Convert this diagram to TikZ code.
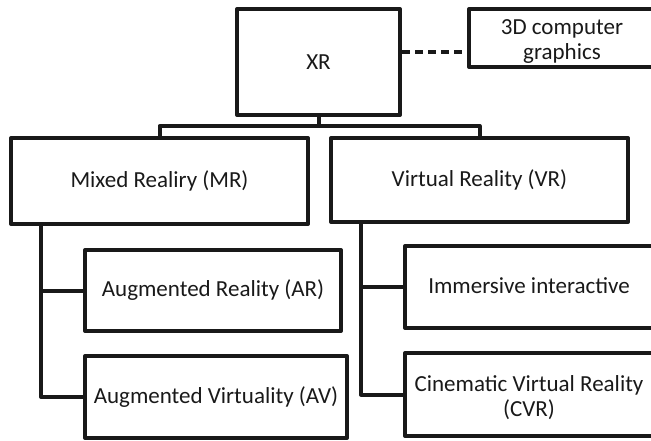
\documentclass[tikz,border=0pt]{standalone}
\usepackage{fontspec}
\setmainfont{Carlito}
\newcommand\lowtxt[2]{\raisebox{-#1}[\height][\depth]{\begin{tabular}{@{}c@{}}#2\end{tabular}}}
\begin{document}
\begin{tikzpicture}[x=1pt,y=1pt,
  box/.style={draw=black!90, line width=4pt, line join=round, rectangle, inner sep=0pt, align=center,
    font=\fontsize{23}{25}\selectfont, text=black!90},
  conn/.style={draw=black!90, line width=4pt, line join=round}]
\useasboundingbox (0,0) rectangle (651,-441);
\clip (0,0) rectangle (651,-441);
\node[box, minimum width=163pt, minimum height=106pt] (XR) at (318.5,-62) {\lowtxt{3pt}{XR}};
\node[box, minimum width=186pt, minimum height=58pt] (TD) at (562,-38) {\lowtxt{4pt}{3D computer\\graphics}};
\node[box, minimum width=297pt, minimum height=86pt] (MR) at (159.5,-181) {\lowtxt{2pt}{Mixed Realiry (MR)}};
\node[box, minimum width=297pt, minimum height=84pt] (VR) at (479.5,-180) {\lowtxt{1pt}{Virtual Reality (VR)}};
\node[box, minimum width=256pt, minimum height=81pt] (AR) at (213,-290.5) {\lowtxt{1pt}{Augmented Reality (AR)}};
\node[box, minimum width=262pt, minimum height=82pt] (AV) at (216,-397) {\lowtxt{1pt}{Augmented Virtuality (AV)}};
\node[box, minimum width=248pt, minimum height=82pt] (IM) at (529,-287) {\lowtxt{1pt}{Immersive interactive}};
\node[box, minimum width=248pt, minimum height=83pt] (CVR) at (529,-394.5) {\lowtxt{4pt}{Cinematic Virtual Reality\\(CVR)}};
\coordinate (bus) at (318.5,-126);
\coordinate (dash) at (0,-52);
\coordinate (mrt) at (41,0);
\coordinate (vrt) at (361,0);
\draw[conn] (XR.south) -- (bus);
\draw[conn] (MR.north) |- (bus) -| (VR.north);
\draw[conn, dash pattern=on 8pt off 5pt] (XR.east |- dash) -- (TD.west |- dash);
\draw[conn] (mrt |- MR.south) |- (AV.west);
\draw[conn] (mrt |- AR.west) -- (AR.west);
\draw[conn] (vrt |- VR.south) |- (CVR.west);
\draw[conn] (vrt |- IM.west) -- (IM.west);
\end{tikzpicture}
\end{document}
